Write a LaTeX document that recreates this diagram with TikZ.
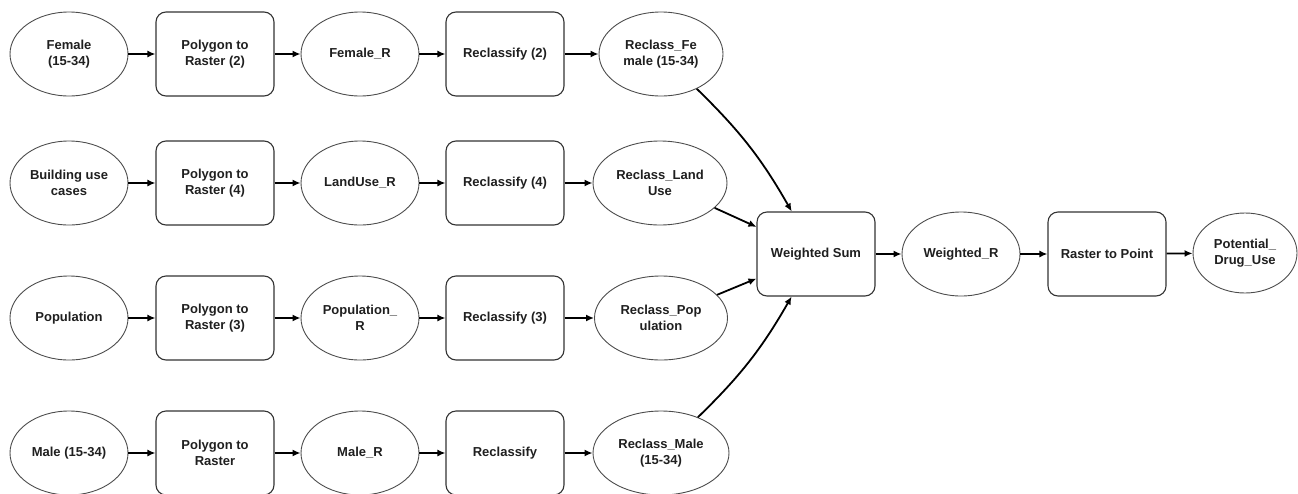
\documentclass[tikz,border=0pt]{standalone}
\usepackage{fontspec}
\setmainfont{Liberation Sans}
\usetikzlibrary{shapes.geometric,arrows.meta,calc}
\begin{document}
\begin{tikzpicture}[x=1pt,y=-1pt,
  lbl/.style={align=center,font=\fontsize{13}{16.5}\selectfont\bfseries,text=black!88},
  dat/.style={lbl,ellipse,draw=black!70,line width=0.9pt,minimum width=118pt,minimum height=84pt,inner sep=0pt},
  tool/.style={lbl,rectangle,rounded corners=10pt,draw=black!80,line width=1.1pt,minimum width=118pt,minimum height=84pt},
  con/.style={line width=1.8pt,draw=black,-{Latex[length=8pt,width=7pt]}}]
\useasboundingbox (0,0) rectangle (1298,493);
% row 1
\node[dat] (f1) at (69,54) {Female\\(15-34)};
\node[tool] (p1) at (215,54) {Polygon to\\Raster (2)};
\node[dat] (r1) at (360,54) {Female\_R};
\node[tool] (c1) at (505,54) {Reclassify (2)};
\node[dat,minimum width=124pt] (o1) at (661,54) {Reclass\_Fe\\male (15-34)};
% row 2
\node[dat] (f2) at (69,183) {Building use\\cases};
\node[tool] (p2) at (215,183) {Polygon to\\Raster (4)};
\node[dat] (r2) at (360,183) {LandUse\_R};
\node[tool] (c2) at (505,183) {Reclassify (4)};
\node[dat,minimum width=134pt] (o2) at (660,183) {Reclass\_Land\\Use};
% row 3
\node[dat] (f3) at (69,318) {Population};
\node[tool] (p3) at (215,318) {Polygon to\\Raster (3)};
\node[dat] (r3) at (360,318) {Population\_\\R};
\node[tool] (c3) at (505,318) {Reclassify (3)};
\node[dat,minimum width=133pt] (o3) at (661,318) {Reclass\_Pop\\ulation};
% row 4
\node[dat] (f4) at (69,453) {Male (15-34)};
\node[tool] (p4) at (215,453) {Polygon to\\Raster};
\node[dat] (r4) at (360,453) {Male\_R};
\node[tool] (c4) at (505,453) {Reclassify};
\node[dat,minimum width=136pt] (o4) at (661,453) {Reclass\_Male\\(15-34)};
% right part
\node[tool] (ws) at (816,254) {Weighted Sum};
\node[dat] (wr) at (961,254) {Weighted\_R};
\node[tool] (rp) at (1107,254) {Raster to Point};
\node[dat,minimum width=104pt,minimum height=80pt] (pd) at (1245,253) {Potential\_\\Drug\_Use};
% connectors
\foreach \i in {1,2,3,4}{
  \draw[con] (f\i) -- (p\i);
  \draw[con] (p\i) -- (r\i);
  \draw[con] (r\i) -- (c\i);
  \draw[con] (c\i) -- (o\i);
}
\draw[con] (o1) to[bend left=8] (ws);
\draw[con] (o2) -- (ws);
\draw[con] (o3) -- (ws);
\draw[con] (o4) to[bend right=8] (ws);
\draw[con] (ws) -- (wr);
\draw[con] (wr) -- (rp);
\draw[con] (rp) -- (pd);
\end{tikzpicture}
\end{document}
